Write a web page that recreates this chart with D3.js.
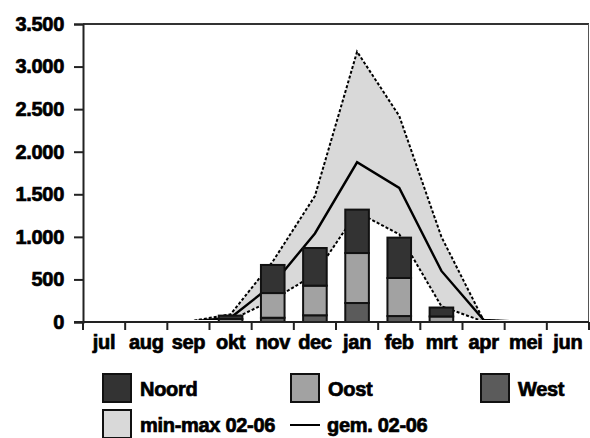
<!DOCTYPE html>
<html>
<head>
<meta charset="utf-8">
<script src="https://cdn.jsdelivr.net/npm/d3@7/dist/d3.min.js"></script>
<style>
  html, body { margin: 0; padding: 0; background: #fff; }
  svg { display: block; }
  text { font-family: "Liberation Sans", Arial, sans-serif; font-weight: bold; font-size: 20px; fill: #000;
         stroke: #000; stroke-width: 0.7px; letter-spacing: -0.3px; }
</style>
</head>
<body>
<svg id="chart" width="590" height="438"></svg>
<script>
// Months of the season, July to June
const months = ["jul", "aug", "sep", "okt", "nov", "dec", "jan", "feb", "mrt", "apr", "mei", "jun"];

// Current season, stacked per region
const west  = [0, 0, 0, 0, 50, 79, 223, 70, 0, 0, 0, 0];
const oost  = [0, 0, 0, 35, 290, 348, 587, 447, 65, 0, 0, 0];
const noord = [0, 0, 0, 40, 330, 442, 510, 474, 105, 0, 0, 0];

// Reference period 02-06: minimum, average and maximum
const minRef = [0, 0, 0, 20, 260, 560, 1290, 1030, 185, 5, 0, 0];
const avgRef = [0, 0, 3, 50, 440, 1040, 1876, 1575, 600, 25, 0, 0];
const maxRef = [0, 0, 5, 90, 710, 1480, 3175, 2420, 1000, 20, 0, 0];

const yTicks = [0, 500, 1000, 1500, 2000, 2500, 3000, 3500];

const series = [
  { key: "West",  values: west,  color: "#5b5b5b" },
  { key: "Oost",  values: oost,  color: "#a2a2a2" },
  { key: "Noord", values: noord, color: "#333333" }
];

const svg = d3.select("#chart");
const plot = { left: 83, right: 589, top: 24, bottom: 322 };

const x = d3.scaleBand().domain(months).range([plot.left, plot.right]).paddingInner(0).paddingOuter(0);
const y = d3.scaleLinear().domain([0, 3500]).range([plot.bottom, plot.top]);
const cx = m => x(m) + x.bandwidth() / 2;
const barW = x.bandwidth() * 0.56;

const rows = months.map((m, i) => ({
  m, min: minRef[i], avg: avgRef[i], max: maxRef[i],
  West: west[i], Oost: oost[i], Noord: noord[i]
}));

// Keep the reference lines inside the plot, above the baseline
svg.append("clipPath").attr("id", "plotClip")
  .append("rect")
  .attr("x", plot.left).attr("y", plot.top)
  .attr("width", plot.right - plot.left).attr("height", plot.bottom - plot.top - 2);

const refLayer = svg.append("g").attr("clip-path", "url(#plotClip)");

// Min-max band of the reference period
refLayer.append("path")
  .datum(rows)
  .attr("fill", "#d9d9d9")
  .attr("d", d3.area().x(d => cx(d.m)).y0(d => y(d.min)).y1(d => y(d.max)));

// Dashed min and max outlines
["min", "max"].forEach(k => {
  refLayer.append("path")
    .datum(rows)
    .attr("fill", "none")
    .attr("stroke", "#000")
    .attr("stroke-width", 2)
    .attr("stroke-dasharray", "3,2")
    .attr("d", d3.line().x(d => cx(d.m)).y(d => y(d[k])));
});

// Average line
refLayer.append("path")
  .datum(rows)
  .attr("fill", "none")
  .attr("stroke", "#000")
  .attr("stroke-width", 2.4)
  .attr("d", d3.line().x(d => cx(d.m)).y(d => y(d.avg)));

// Stacked bars
const stack = d3.stack().keys(series.map(s => s.key))(rows);
stack.forEach((layer, li) => {
  svg.append("g")
    .selectAll("rect")
    .data(layer.filter(d => d[1] - d[0] > 0))
    .join("rect")
    .attr("x", d => cx(d.data.m) - barW / 2)
    .attr("width", barW)
    .attr("y", d => y(d[1]))
    .attr("height", d => y(d[0]) - y(d[1]))
    .attr("fill", series[li].color)
    .attr("stroke", "#111")
    .attr("stroke-width", 2);
});

// Frame: top and right border
svg.append("line").attr("x1", plot.left).attr("x2", plot.right).attr("y1", plot.top).attr("y2", plot.top)
  .attr("stroke", "#333").attr("stroke-width", 2);
svg.append("line").attr("x1", plot.right - 0.5).attr("x2", plot.right - 0.5).attr("y1", plot.top).attr("y2", plot.bottom)
  .attr("stroke", "#555").attr("stroke-width", 1);

// Y axis
const yAxis = svg.append("g").attr("transform", `translate(${plot.left},0)`)
  .call(d3.axisLeft(y).tickValues(yTicks).tickSize(9).tickPadding(10)
    .tickFormat(d => d3.format(",")(d).replace(/,/g, ".")));
yAxis.select(".domain").attr("stroke", "#222").attr("stroke-width", 2);
yAxis.selectAll(".tick line").attr("stroke", "#222").attr("stroke-width", 2);
yAxis.selectAll("text").attr("font-size", null).attr("font-family", null).attr("fill", null);

// X axis with ticks on the category boundaries
const xAxis = svg.append("g").attr("transform", `translate(0,${plot.bottom})`);
xAxis.append("line").attr("x1", plot.left - 9).attr("x2", plot.right).attr("y1", 0).attr("y2", 0)
  .attr("stroke", "#222").attr("stroke-width", 2);
xAxis.selectAll("line.tk")
  .data(months.map(m => x(m)).concat([plot.right]))
  .join("line")
  .attr("class", "tk")
  .attr("x1", d => d).attr("x2", d => d)
  .attr("y1", 0).attr("y2", 8)
  .attr("stroke", "#222").attr("stroke-width", 2);
xAxis.selectAll("text")
  .data(months)
  .join("text")
  .attr("x", d => cx(d))
  .attr("y", 27)
  .attr("text-anchor", "middle")
  .text(d => d);

// Legend
const legend = svg.append("g");
const legendItems = [
  { label: "Noord", color: "#333333", x: 103, y: 374 },
  { label: "Oost",  color: "#a2a2a2", x: 291, y: 374 },
  { label: "West",  color: "#5b5b5b", x: 481, y: 374 },
  { label: "min-max 02-06", color: "#d9d9d9", x: 103, y: 410 }
];
legendItems.forEach(it => {
  legend.append("rect")
    .attr("x", it.x).attr("y", it.y).attr("width", 28).attr("height", 28)
    .attr("fill", it.color).attr("stroke", "#111").attr("stroke-width", 2);
  legend.append("text")
    .attr("x", it.x + 37).attr("y", it.y + 22)
    .text(it.label);
});
legend.append("line")
  .attr("x1", 290).attr("x2", 320).attr("y1", 425).attr("y2", 425)
  .attr("stroke", "#000").attr("stroke-width", 2);
legend.append("text").attr("x", 327).attr("y", 432).text("gem. 02-06");
</script>
</body>
</html>
